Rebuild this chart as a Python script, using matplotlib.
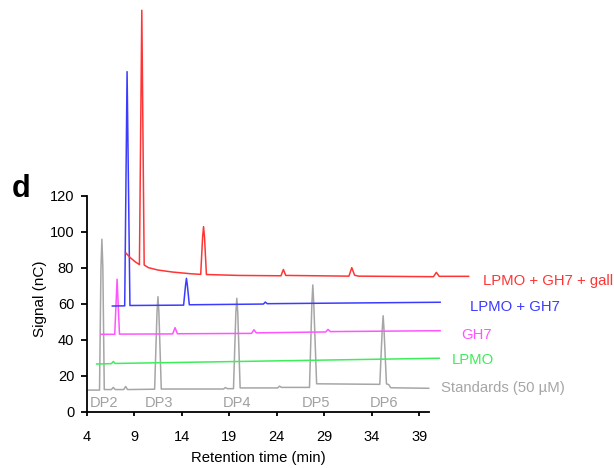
import matplotlib
matplotlib.use("Agg")
import matplotlib.pyplot as plt

plt.rcParams['font.family'] = ['Liberation Sans', 'DejaVu Sans']

# chromatograms: retention time (min), signal (nC)
std_t = [4.0, 5.35, 5.5, 5.6, 5.7, 5.85, 6.6, 6.8, 7.0, 7.9, 8.1, 8.3, 11.15, 11.4, 11.5, 11.6, 11.85,
         18.4, 18.6, 18.8, 19.45, 19.7, 19.8, 19.9, 20.15, 24.1, 24.3, 24.5, 27.45, 27.7, 27.8, 27.9, 28.2,
         34.85, 35.1, 35.2, 35.3, 35.55, 35.8, 36.0, 40.0]
std_y = [12.0, 12.0, 80.0, 95.8, 80.0, 12.3, 12.3, 13.5, 12.3, 12.3, 14.0, 12.3, 12.5, 55.0, 63.9, 55.0, 12.6,
         12.6, 13.4, 12.8, 12.8, 55.0, 63.0, 55.0, 13.2, 13.2, 14.2, 13.5, 13.5, 60.0, 70.4, 60.0, 15.5,
         15.2, 45.0, 53.3, 45.0, 15.5, 15.0, 13.3, 13.0]

lpmo_t = [5.05, 6.6, 6.8, 7.0, 41.1]
lpmo_y = [26.5, 26.7, 27.9, 26.8, 29.7]

gh7_t = [5.5, 6.95, 7.2, 7.45, 13.05, 13.3, 13.55, 21.35, 21.6, 21.85, 29.15, 29.4, 29.65, 41.2]
gh7_y = [43.0, 43.0, 73.6, 43.1, 43.2, 46.7, 43.3, 43.5, 45.5, 43.8, 44.3, 45.7, 44.5, 45.0]

lg_t = [6.7, 8.0, 8.25, 8.55, 14.2, 14.4, 14.5, 14.6, 14.8, 22.6, 22.8, 23.0, 41.2]
lg_y = [58.7, 58.8, 188.9, 59.0, 59.2, 70.0, 74.1, 70.0, 59.4, 59.8, 60.9, 60.0, 60.8]

lgg_t = [8.1, 8.6, 9.1, 9.55, 9.8, 10.05, 10.5, 11.5, 13.0, 15.0, 16.0, 16.2, 16.3, 16.4, 16.6,
         20.0, 24.45, 24.7, 24.95, 31.6, 31.9, 32.2, 32.6, 40.5, 40.8, 41.1, 44.2]
lgg_y = [88.3, 85.5, 83.3, 81.7, 223.0, 81.5, 80.0, 78.7, 77.6, 76.6, 76.3, 97.0, 102.8, 97.0, 76.2,
         75.7, 75.5, 79.0, 75.7, 75.3, 80.0, 75.8, 75.3, 75.0, 77.4, 75.2, 75.2]

series_names = ['Standards (50 µM)', 'LPMO', 'GH7', 'LPMO + GH7', 'LPMO + GH7 + gall']
dp_names = ['DP2', 'DP3', 'DP4', 'DP5', 'DP6']
dp_times = [5.82, 11.6, 19.87, 28.1, 35.24]

# layout / style
colors = ['#a6a6a6', '#3cee5a', '#ff55ff', '#3c3cff', '#ff3535']
label_x = [41.26, 42.42, 43.47, 44.35, 45.75]
label_y = [13.0, 28.7, 42.6, 58.3, 72.6]

fig = plt.figure(figsize=(6.14, 4.68), dpi=100)
ax = fig.add_axes([0.1412, 0.1203, 0.8588, 0.8797])

traces = [(std_t, std_y), (lpmo_t, lpmo_y), (gh7_t, gh7_y), (lg_t, lg_y), (lgg_t, lgg_y)]
for (t, y), c, name, lx, ly in zip(traces, colors, series_names, label_x, label_y):
    ax.plot(t, y, color=c, lw=1.1)
    ax.text(lx, ly, name, color=c, fontsize=10.7, ha='left', va='center')

for name, t in zip(dp_names, dp_times):
    ax.text(t, 5.0, name, color='#a0a0a0', fontsize=10.5, ha='center', va='center')

ax.set_xlim(4, 59.5)
ax.set_ylim(0, 228.7)
ax.spines['top'].set_visible(False)
ax.spines['right'].set_visible(False)
ax.spines['bottom'].set_bounds(4, 40)
ax.spines['left'].set_bounds(0, 120)
for s in ['left', 'bottom']:
    ax.spines[s].set_linewidth(1.3)
ax.set_xticks([4, 9, 14, 19, 24, 29, 34, 39])
ax.set_yticks([0, 20, 40, 60, 80, 100, 120])
ax.tick_params(axis='x', length=3, width=1.3, labelsize=10.5, pad=10)
ax.tick_params(axis='y', length=4, width=1.3, labelsize=10.5, pad=5)

ax.set_xlabel('Retention time (min)', fontsize=10.7)
ax.xaxis.set_label_coords(0.325, -0.095)
ax.set_ylabel('Signal (nC)', fontsize=11)
ax.yaxis.set_label_coords(-0.076, 0.275)

fig.text(0.0195, 0.579, 'd', fontsize=22, fontweight='bold', ha='left', va='baseline')

fig.savefig('out.png', dpi=100)
